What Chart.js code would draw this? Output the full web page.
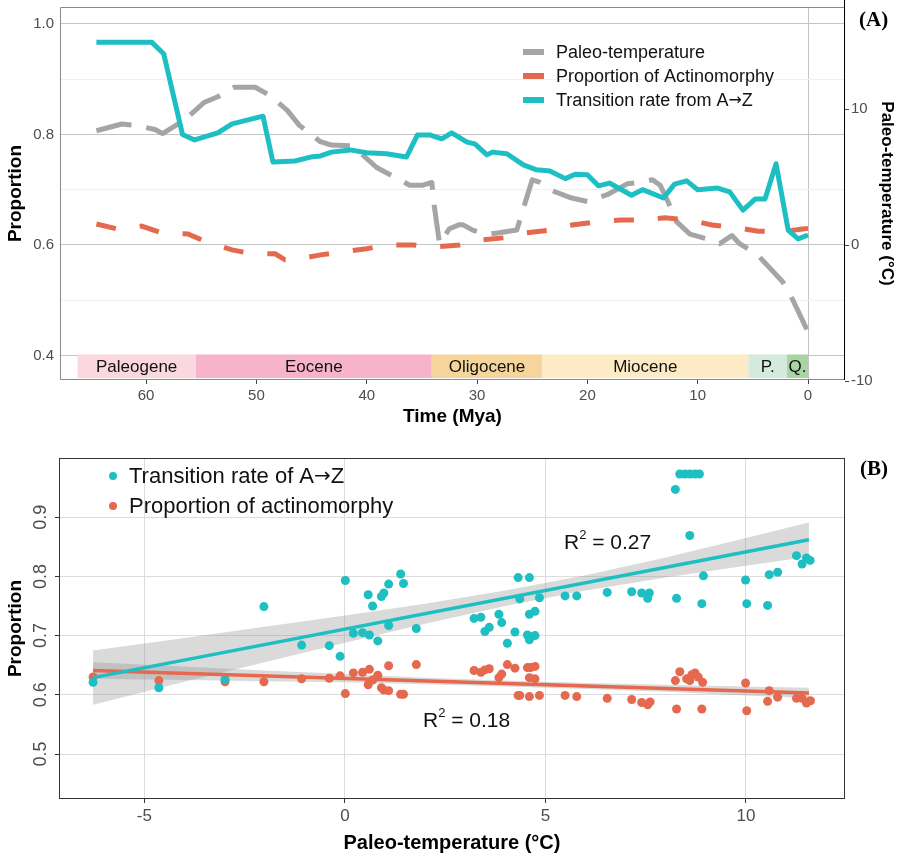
<!DOCTYPE html>
<html>
<head>
<meta charset="utf-8">
<script src="https://cdn.jsdelivr.net/npm/chart.js@4.4.1/dist/chart.umd.min.js"></script>
<style>
  body { margin: 0; background: #fff; }
  #wrap { position: relative; width: 906px; height: 867px; }
  canvas { position: absolute; left: 0; }
</style>
</head>
<body>
<div id="wrap">
  <canvas id="chartA" width="906" height="430" style="top:0"></canvas>
  <canvas id="chartB" width="906" height="437" style="top:430px"></canvas>
</div>
<script>
// ---------- panel A: time series (Mya) ----------
const rateTime = [64.5, 59.5, 58.4, 56.7, 55.6, 53.5, 52.2, 49.4, 48.5, 46.5, 45.1, 44.2, 43.2, 41.5, 40.0, 38.2, 36.4, 35.4, 34.3, 33.2, 32.3, 30.9, 30.2, 29.1, 28.6, 27.3, 25.8, 24.6, 23.4, 22.0, 21.1, 20.0, 19.0, 18.0, 16.0, 15.0, 13.1, 12.1, 11.0, 10.0, 8.2, 7.1, 5.9, 4.8, 3.9, 2.9, 1.8, 0.9, 0];
const rateVals = [0.967, 0.967, 0.946, 0.800, 0.790, 0.803, 0.819, 0.833, 0.750, 0.752, 0.759, 0.761, 0.768, 0.772, 0.767, 0.765, 0.759, 0.799, 0.799, 0.792, 0.803, 0.786, 0.783, 0.763, 0.768, 0.765, 0.745, 0.736, 0.734, 0.720, 0.728, 0.727, 0.707, 0.712, 0.690, 0.700, 0.685, 0.710, 0.716, 0.700, 0.703, 0.696, 0.663, 0.683, 0.683, 0.747, 0.627, 0.611, 0.618];

const actinoTime = [64.5, 62.6, 60.4, 58.6, 56.2, 54.5, 52.2, 50.4, 48.3, 47.4, 46.5, 44.2, 42.4, 40.0, 38.2, 35.8, 34.0, 31.6, 29.7, 27.5, 25.5, 23.4, 21.4, 19.1, 17.0, 15.0, 13.0, 10.7, 8.7, 6.4, 4.5, 2.3, 0.5, 0];
const actinoVals = [0.638, 0.629, 0.634, 0.622, 0.620, 0.605, 0.591, 0.584, 0.584, 0.573, 0.573, 0.582, 0.587, 0.593, 0.600, 0.600, 0.596, 0.600, 0.609, 0.613, 0.622, 0.627, 0.636, 0.642, 0.645, 0.645, 0.649, 0.645, 0.636, 0.631, 0.625, 0.624, 0.629, 0.630];

const tempTime = [64.5, 62.2, 61.0, 59.2, 58.5, 56.5, 54.7, 53.5, 52.0, 50.1, 48.8, 47.2, 46.1, 44.2, 43.2, 41.5, 40.6, 39.1, 37.0, 36.1, 34.9, 34.1, 33.9, 33.4, 32.5, 31.6, 31.3, 30.4, 29.1, 28.0, 26.4, 25.0, 24.3, 23.2, 21.6, 20.0, 19.0, 18.2, 16.4, 15.2, 14.1, 13.4, 12.7, 11.9, 10.7, 8.9, 8.0, 6.9, 6.2, 4.6, 2.3, 1.4, 0];
const tempVals = [8.4, 8.9, 8.8, 8.5, 8.2, 9.2, 10.5, 10.9, 11.6, 11.6, 11.0, 9.9, 8.8, 7.6, 7.35, 7.3, 6.8, 5.7, 4.8, 4.4, 4.4, 4.6, 3.0, 0.1, 1.2, 1.5, 1.5, 1.1, 0.8, 0.9, 1.1, 4.8, 4.6, 4.0, 3.5, 3.2, 3.5, 3.7, 4.5, 4.6, 4.8, 4.4, 3.2, 1.7, 0.8, 0.4, 0.1, 0.7, 0.1, -0.7, -2.7, -4.0, -6.4];

const timeTicks = [0, 10, 20, 30, 40, 50, 60];
const propTicksA = [0.4, 0.5, 0.6, 0.7, 0.8, 0.9, 1.0];
const tempTicks = [-10, 0, 10];

const periodNames = ['Paleogene', 'Eocene', 'Oligocene', 'Miocene', 'P.', 'Q.'];
const periodStart = [66.2, 55.5, 34.1, 24.1, 5.4, 1.9];
const periodEnd = [55.5, 34.1, 24.1, 5.4, 1.9, 0];

// ---------- panel B: proportion vs paleo-temperature ----------
const rateTempB = [-6.28, -4.64, -2.99, -2.02, -1.08, -0.39, -0.12, 0.01, 0.21, 0.44, 0.58, 0.61, 0.69, 0.82, 0.91, 0.97, 1.09, 1.09, 1.39, 1.46, 1.78, 3.22, 3.39, 3.49, 3.60, 3.84, 3.91, 4.05, 4.24, 4.32, 4.36, 4.55, 4.60, 4.60, 4.60, 4.63, 4.74, 4.74, 4.85, 5.49, 5.78, 6.54, 7.15, 7.40, 7.55, 7.59, 8.24, 8.27, 8.35, 8.48, 8.60, 8.73, 8.84, 8.60, 8.90, 8.94, 9.99, 10.02, 10.54, 10.58, 10.79, 11.26, 11.40, 11.51, 11.60];
const rateValB = [0.621, 0.612, 0.626, 0.749, 0.684, 0.683, 0.665, 0.793, 0.704, 0.705, 0.769, 0.701, 0.750, 0.691, 0.766, 0.772, 0.787, 0.717, 0.804, 0.788, 0.712, 0.729, 0.731, 0.707, 0.714, 0.736, 0.722, 0.687, 0.706, 0.798, 0.762, 0.701, 0.798, 0.736, 0.693, 0.698, 0.700, 0.741, 0.764, 0.767, 0.767, 0.773, 0.774, 0.772, 0.763, 0.772, 0.947, 0.763, 0.973, 0.973, 0.973, 0.973, 0.973, 0.869, 0.754, 0.801, 0.794, 0.754, 0.751, 0.803, 0.807, 0.835, 0.821, 0.831, 0.827];

const actinoTempB = [-6.28, -4.64, -2.99, -2.02, -1.08, -0.39, -0.12, 0.01, 0.21, 0.44, 0.58, 0.61, 0.69, 0.82, 0.91, 0.97, 1.09, 1.09, 1.39, 1.46, 1.78, 3.22, 3.39, 3.49, 3.60, 3.84, 3.91, 4.05, 4.24, 4.32, 4.36, 4.55, 4.60, 4.60, 4.63, 4.74, 4.74, 4.85, 5.49, 5.78, 6.54, 7.15, 7.40, 7.55, 7.61, 8.24, 8.27, 8.35, 8.52, 8.60, 8.65, 8.73, 8.81, 8.92, 8.90, 9.99, 10.02, 10.54, 10.58, 10.79, 11.26, 11.40, 11.51, 11.61];
const actinoValB = [0.630, 0.624, 0.622, 0.622, 0.627, 0.628, 0.632, 0.602, 0.637, 0.638, 0.617, 0.643, 0.625, 0.633, 0.612, 0.608, 0.649, 0.607, 0.601, 0.601, 0.651, 0.641, 0.638, 0.642, 0.644, 0.629, 0.635, 0.651, 0.645, 0.599, 0.599, 0.646, 0.597, 0.629, 0.646, 0.648, 0.627, 0.599, 0.599, 0.597, 0.594, 0.592, 0.587, 0.583, 0.588, 0.624, 0.576, 0.639, 0.627, 0.624, 0.634, 0.637, 0.630, 0.621, 0.576, 0.620, 0.573, 0.589, 0.607, 0.596, 0.594, 0.594, 0.586, 0.590];

// fitted lines and 95% bands
const fitTemp = [-6.28, 11.57];
const rateFit = [0.629, 0.862];
const actinoFit = [0.641, 0.603];
const bandTemp = [-6.28, -4, -2, 0, 2, 4, 6, 8, 10, 11.57];
const rateUpper = [0.675, 0.696, 0.715, 0.734, 0.754, 0.776, 0.802, 0.832, 0.865, 0.891];
const rateLower = [0.583, 0.622, 0.655, 0.688, 0.720, 0.750, 0.776, 0.798, 0.818, 0.833];
const actinoUpper = [0.655, 0.648, 0.641, 0.635, 0.629, 0.624, 0.620, 0.617, 0.614, 0.612];
const actinoLower = [0.627, 0.625, 0.623, 0.621, 0.618, 0.614, 0.610, 0.605, 0.599, 0.594];

const tempTicksB = [-5, 0, 5, 10];
const propTicksB = [0.5, 0.6, 0.7, 0.8, 0.9];

// ---------- styling ----------
const TEAL = '#1dbfc2';
const RED = '#e4694f';
const GRAY = '#a5a5a5';
const BAND = 'rgba(150, 150, 150, 0.35)';
const periodColors = ['#fbd8df', '#f8b3cc', '#f5d59c', '#fcebc4', '#d4eadd', '#a8d5a3'];
const SANS = "'Liberation Sans', Arial, sans-serif";
const SERIF = "'Liberation Serif', 'Times New Roman', serif";
const ARROWFONT = "'DejaVu Sans', sans-serif";

Chart.defaults.font.family = SANS;

const pairs = (xs, ys) => xs.map((x, i) => ({ x: x, y: ys[i] }));
const fixedTicks = vals => scale => { scale.ticks = vals.map(v => ({ value: v })); };

// text whose arrow is drawn with a font that has a wide arrow glyph
function arrowText(ctx, text, x, y, size) {
  const parts = text.split('\u2192');
  let cx = x;
  parts.forEach((p, i) => {
    ctx.font = size + 'px ' + SANS;
    ctx.fillText(p, cx, y);
    cx += ctx.measureText(p).width;
    if (i < parts.length - 1) {
      ctx.font = (size - 2) + 'px ' + ARROWFONT;
      ctx.fillText('\u2192', cx, y);
      cx += ctx.measureText('\u2192').width;
    }
  });
}

// period bands, panel frame and legend for panel A
const panelAPlugin = {
  id: 'panelA',
  beforeDatasetsDraw(chart) {
    const { ctx, chartArea: a, scales } = chart;
    const x = scales.x, y = scales.y;
    const top = y.getPixelForValue(0.4) - 1;
    const bottom = a.bottom - 2;
    ctx.save();
    periodNames.forEach((name, i) => {
      const x0 = x.getPixelForValue(periodStart[i]);
      const x1 = x.getPixelForValue(periodEnd[i]);
      ctx.fillStyle = periodColors[i];
      ctx.fillRect(x0, top, x1 - x0, bottom - top);
      ctx.fillStyle = '#111';
      ctx.font = '17px ' + SANS;
      ctx.textAlign = 'center';
      ctx.textBaseline = 'middle';
      ctx.fillText(name, (x0 + x1) / 2, (top + bottom) / 2 + 1);
    });
    // frame
    ctx.strokeStyle = '#8a8a8a';
    ctx.lineWidth = 1;
    ctx.beginPath();
    ctx.moveTo(a.left + 0.5, a.bottom);
    ctx.lineTo(a.left + 0.5, a.top + 0.5);
    ctx.lineTo(a.right, a.top + 0.5);
    ctx.moveTo(a.left, a.bottom - 0.5);
    ctx.lineTo(a.right, a.bottom - 0.5);
    ctx.stroke();
    ctx.strokeStyle = '#000';
    ctx.beginPath();
    ctx.moveTo(a.right - 0.5, 0);
    ctx.lineTo(a.right - 0.5, a.bottom);
    ctx.stroke();
    ctx.restore();
  },
  afterDatasetsDraw(chart) {
    const { ctx } = chart;
    const items = [
      { text: 'Paleo-temperature', color: GRAY },
      { text: 'Proportion of Actinomorphy', color: RED },
      { text: 'Transition rate from A\u2192Z', color: TEAL }
    ];
    ctx.save();
    items.forEach((it, i) => {
      const yy = 52 + i * 24;
      ctx.strokeStyle = it.color;
      ctx.lineWidth = 6;
      ctx.beginPath();
      ctx.moveTo(523, yy);
      ctx.lineTo(544, yy);
      ctx.stroke();
      ctx.fillStyle = '#111';
      ctx.textAlign = 'left';
      ctx.textBaseline = 'middle';
      arrowText(ctx, it.text, 556, yy + 1, 18);
    });
    ctx.font = 'bold 21px ' + SERIF;
    ctx.fillStyle = '#000';
    ctx.fillText('(A)', 859, 21);
    ctx.restore();
  }
};

new Chart(document.getElementById('chartA'), {
  type: 'line',
  data: {
    datasets: [
      { label: 'Transition rate from A\u2192Z', data: pairs(rateTime, rateVals), yAxisID: 'y',
        borderColor: TEAL, borderWidth: 5, pointRadius: 0, tension: 0, borderJoinStyle: 'round', order: 1 },
      { label: 'Proportion of Actinomorphy', data: pairs(actinoTime, actinoVals), yAxisID: 'y',
        borderColor: RED, borderWidth: 5, borderDash: [20, 24], pointRadius: 0, tension: 0, order: 2 },
      { label: 'Paleo-temperature', data: pairs(tempTime, tempVals), yAxisID: 'y2',
        borderColor: GRAY, borderWidth: 5, borderDash: [36, 15], pointRadius: 0, tension: 0, borderJoinStyle: 'round', order: 3 }
    ]
  },
  options: {
    responsive: false,
    animation: false,
    devicePixelRatio: 1,
    layout: { padding: { top: 7, left: 0, right: 0, bottom: 0 } },
    plugins: { legend: { display: false }, tooltip: { enabled: false } },
    scales: {
      x: {
        type: 'linear', reverse: true, min: -3.35, max: 67.8,
        afterBuildTicks: fixedTicks(timeTicks),
        afterFit: s => { s.height = 50; s.paddingLeft = 0; s.paddingRight = 0; },
        border: { display: false },
        grid: {
          color: c => (c.tick && c.tick.value === 0) ? '#c4c4c4' : 'rgba(0,0,0,0)',
          tickColor: '#444', tickLength: 4
        },
        ticks: { color: '#4d4d4d', font: { size: 15 }, padding: 3, maxRotation: 0 },
        title: { display: true, text: 'Time (Mya)', color: '#000',
                 font: { size: 19, weight: 'bold' }, padding: { top: 0, bottom: 2 } }
      },
      y: {
        position: 'left', min: 0.3556, max: 1.0306,
        afterBuildTicks: fixedTicks(propTicksA),
        afterFit: s => { s.width = 60; s.paddingTop = 0; s.paddingBottom = 0; },
        border: { display: false },
        grid: {
          color: c => (Math.round(c.tick.value * 10) % 2 === 0) ? '#c4c4c4' : '#f1f1f1',
          drawTicks: false
        },
        ticks: {
          color: '#4d4d4d', font: { size: 15 }, padding: 6,
          callback: v => (Math.round(v * 10) % 2 === 0) ? v.toFixed(1) : ''
        },
        title: { display: true, text: 'Proportion', color: '#000',
                 font: { size: 19, weight: 'bold' }, padding: { top: 4, bottom: 0 } }
      },
      y2: {
        position: 'right', min: -9.92, max: 17.50,
        afterBuildTicks: fixedTicks(tempTicks),
        afterFit: s => { s.width = 61; s.paddingTop = 0; s.paddingBottom = 0; },
        border: { display: false },
        grid: { drawOnChartArea: false, tickColor: '#444', tickLength: 4 },
        ticks: { color: '#4d4d4d', font: { size: 15 }, padding: 2 },
        title: { display: true, text: 'Paleo-temperature (\u00B0C)', color: '#000',
                 font: { size: 17, weight: 'bold' }, padding: { top: 9, bottom: 0 } }
      }
    }
  },
  plugins: [panelAPlugin]
});

// rotated y tick labels, frame, legend and annotations for panel B
const panelBPlugin = {
  id: 'panelB',
  beforeDatasetsDraw(chart) {
    const { ctx, chartArea: a } = chart;
    ctx.save();
    ctx.strokeStyle = '#333';
    ctx.lineWidth = 1;
    ctx.strokeRect(a.left + 0.5, a.top + 0.5, a.right - a.left - 1, a.bottom - a.top - 1);
    ctx.restore();
  },
  afterDraw(chart) {
    const { ctx, scales } = chart;
    const y = scales.y;
    ctx.save();
    ctx.fillStyle = '#4d4d4d';
    ctx.font = '18px ' + SANS;
    ctx.textAlign = 'center';
    ctx.textBaseline = 'middle';
    propTicksB.forEach(v => {
      ctx.save();
      ctx.translate(41, y.getPixelForValue(v));
      ctx.rotate(-Math.PI / 2);
      ctx.fillText(v.toFixed(1), 0, 0);
      ctx.restore();
    });

    // legend
    const items = [
      { text: 'Transition rate of A\u2192Z', color: TEAL },
      { text: 'Proportion of actinomorphy', color: RED }
    ];
    items.forEach((it, i) => {
      const yy = 46 + i * 30;
      ctx.fillStyle = it.color;
      ctx.beginPath();
      ctx.arc(113, yy, 4, 0, Math.PI * 2);
      ctx.fill();
      ctx.fillStyle = '#111';
      ctx.textAlign = 'left';
      arrowText(ctx, it.text, 129, yy + 1, 22);
    });

    // R-squared labels
    const r2 = (txt, x0, yy) => {
      ctx.fillStyle = '#111';
      ctx.textAlign = 'left';
      ctx.font = '21px ' + SANS;
      ctx.fillText('R', x0, yy);
      const wR = ctx.measureText('R').width;
      ctx.font = '13px ' + SANS;
      ctx.fillText('2', x0 + wR, yy - 8);
      const w2 = ctx.measureText('2').width;
      ctx.font = '21px ' + SANS;
      ctx.fillText(' = ' + txt, x0 + wR + w2, yy);
    };
    r2('0.27', 564, 113);
    r2('0.18', 423, 291);

    ctx.font = 'bold 21px ' + SERIF;
    ctx.fillStyle = '#000';
    ctx.textAlign = 'left';
    ctx.fillText('(B)', 860, 40);
    ctx.restore();
  }
};

const lineOpts = { pointRadius: 0, tension: 0 };

new Chart(document.getElementById('chartB'), {
  type: 'line',
  data: {
    datasets: [
      Object.assign({ label: 'rate fit', data: pairs(fitTemp, rateFit), borderColor: TEAL, borderWidth: 3.5, order: 1 }, lineOpts),
      Object.assign({ label: 'actino fit', data: pairs(fitTemp, actinoFit), borderColor: RED, borderWidth: 3.5, order: 2 }, lineOpts),
      { label: 'Transition rate of A\u2192Z', data: pairs(rateTempB, rateValB), showLine: false,
        pointRadius: 4.5, pointBackgroundColor: TEAL, pointBorderWidth: 0, order: 3 },
      { label: 'Proportion of actinomorphy', data: pairs(actinoTempB, actinoValB), showLine: false,
        pointRadius: 4.5, pointBackgroundColor: RED, pointBorderWidth: 0, order: 4 },
      Object.assign({ label: 'rate upper', data: pairs(bandTemp, rateUpper), borderColor: 'rgba(0,0,0,0)', fill: false, order: 5 }, lineOpts),
      Object.assign({ label: 'rate lower', data: pairs(bandTemp, rateLower), borderColor: 'rgba(0,0,0,0)', fill: '-1', backgroundColor: BAND, order: 6 }, lineOpts),
      Object.assign({ label: 'actino upper', data: pairs(bandTemp, actinoUpper), borderColor: 'rgba(0,0,0,0)', fill: false, order: 7 }, lineOpts),
      Object.assign({ label: 'actino lower', data: pairs(bandTemp, actinoLower), borderColor: 'rgba(0,0,0,0)', fill: '-1', backgroundColor: BAND, order: 8 }, lineOpts)
    ]
  },
  options: {
    responsive: false,
    animation: false,
    devicePixelRatio: 1,
    layout: { padding: { top: 28, left: 0, right: 61, bottom: 0 } },
    plugins: { legend: { display: false }, tooltip: { enabled: false } },
    scales: {
      x: {
        type: 'linear', min: -7.13, max: 12.47,
        afterBuildTicks: fixedTicks(tempTicksB),
        afterFit: s => { s.height = 68; s.paddingLeft = 0; s.paddingRight = 0; },
        border: { display: false },
        grid: { color: '#dcdcdc', tickColor: '#333', tickLength: 4 },
        ticks: { color: '#4d4d4d', font: { size: 17 }, padding: 3, maxRotation: 0 },
        title: { display: true, text: 'Paleo-temperature (\u00B0C)', color: '#000',
                 font: { size: 20, weight: 'bold' }, padding: { top: 0, bottom: 12 } }
      },
      y: {
        min: 0.424, max: 1.0,
        afterBuildTicks: fixedTicks(propTicksB),
        afterFit: s => { s.width = 59; s.paddingTop = 0; s.paddingBottom = 0; },
        border: { display: false },
        grid: { color: '#dcdcdc', tickColor: '#333', tickLength: 4 },
        ticks: { display: false },
        title: { display: true, text: 'Proportion', color: '#000',
                 font: { size: 19, weight: 'bold' }, padding: { top: 4, bottom: 0 } }
      }
    }
  },
  plugins: [panelBPlugin]
});
</script>
</body>
</html>
